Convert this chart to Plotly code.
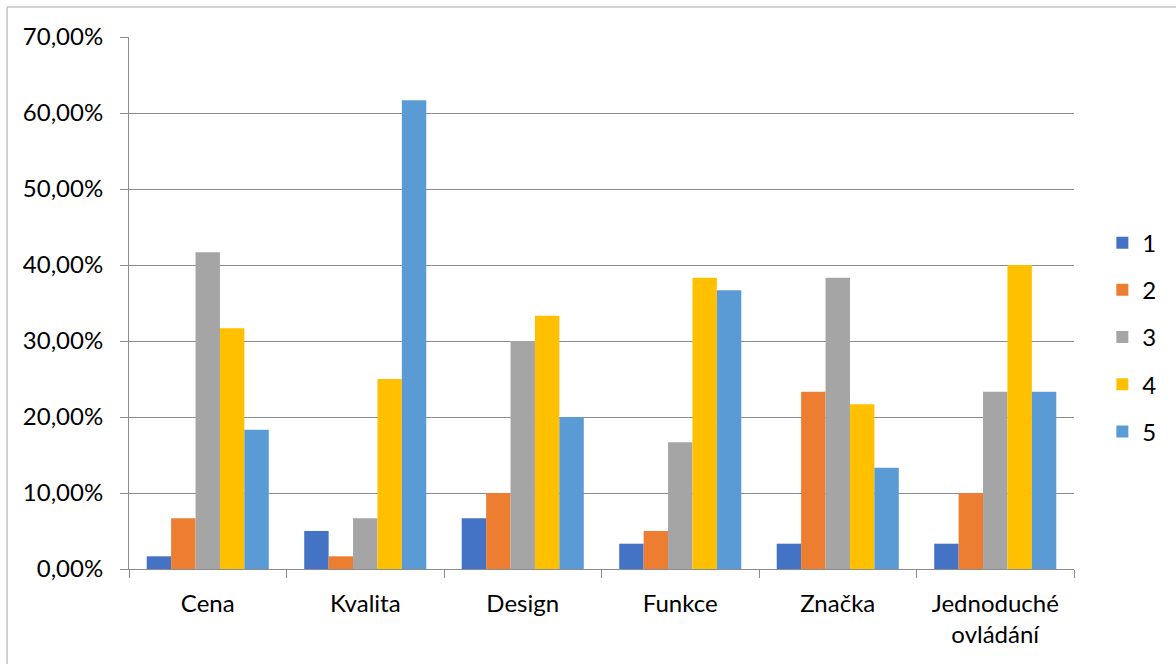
import plotly.graph_objects as go

categories = ["Cena", "Kvalita", "Design", "Funkce", "Značka", "Jednoduché<br>ovládání"]
series_names = ["1", "2", "3", "4", "5"]
s1 = [1.67, 5.00, 6.67, 3.33, 3.33, 3.33]
s2 = [6.67, 1.67, 10.00, 5.00, 23.33, 10.00]
s3 = [41.67, 6.67, 30.00, 16.67, 38.33, 23.33]
s4 = [31.67, 25.00, 33.33, 38.33, 21.67, 40.00]
s5 = [18.33, 61.67, 20.00, 36.67, 13.33, 23.33]
series_values = [s1, s2, s3, s4, s5]
colors = ["#4472C4", "#ED7D31", "#A5A5A5", "#FFC000", "#5B9BD5"]

fig = go.Figure()
for name, vals, col in zip(series_names, series_values, colors):
    fig.add_trace(go.Bar(
        x=categories, y=[v / 100 for v in vals], name=name,
        marker=dict(color=col, line=dict(width=0)),
        legendgroup=name,
    ))

font_family = "Lato, 'Open Sans', sans-serif"
fig.update_layout(
    width=1176, height=664,
    margin=dict(l=129, r=102, t=37, b=95),
    paper_bgcolor="white", plot_bgcolor="white",
    barmode="group", bargap=0.225, bargroupgap=0,
    separators=", ",
    font=dict(family=font_family, size=24, color="#000000"),
    legend=dict(
        x=1.03, xanchor="left", y=0.436, yanchor="middle",
        font=dict(size=24), tracegroupgap=13, itemwidth=30,
        bgcolor="rgba(0,0,0,0)",
    ),
    xaxis=dict(
        showline=True, linecolor="#8C8C8C", linewidth=1,
        ticks="outside", tickson="boundaries", ticklen=8, tickcolor="#8C8C8C",
        ticklabelstandoff=13,
        showgrid=False,
    ),
    yaxis=dict(
        range=[0, 0.7], dtick=0.1, tickformat=".2%",
        showline=True, linecolor="#8C8C8C", linewidth=1,
        gridcolor="#8C8C8C", gridwidth=1,
        ticks="outside", ticklen=8, tickcolor="#8C8C8C",
        ticklabelstandoff=12, zeroline=False,
    ),
    shapes=[dict(
        type="rect", xref="paper", yref="paper",
        x0=-0.129, x1=1.3, y0=-0.5, y1=1.0564,
        line=dict(color="#A6A6A6", width=1), fillcolor="rgba(0,0,0,0)",
        layer="below",
    )],
)

fig.write_html("out.html")
